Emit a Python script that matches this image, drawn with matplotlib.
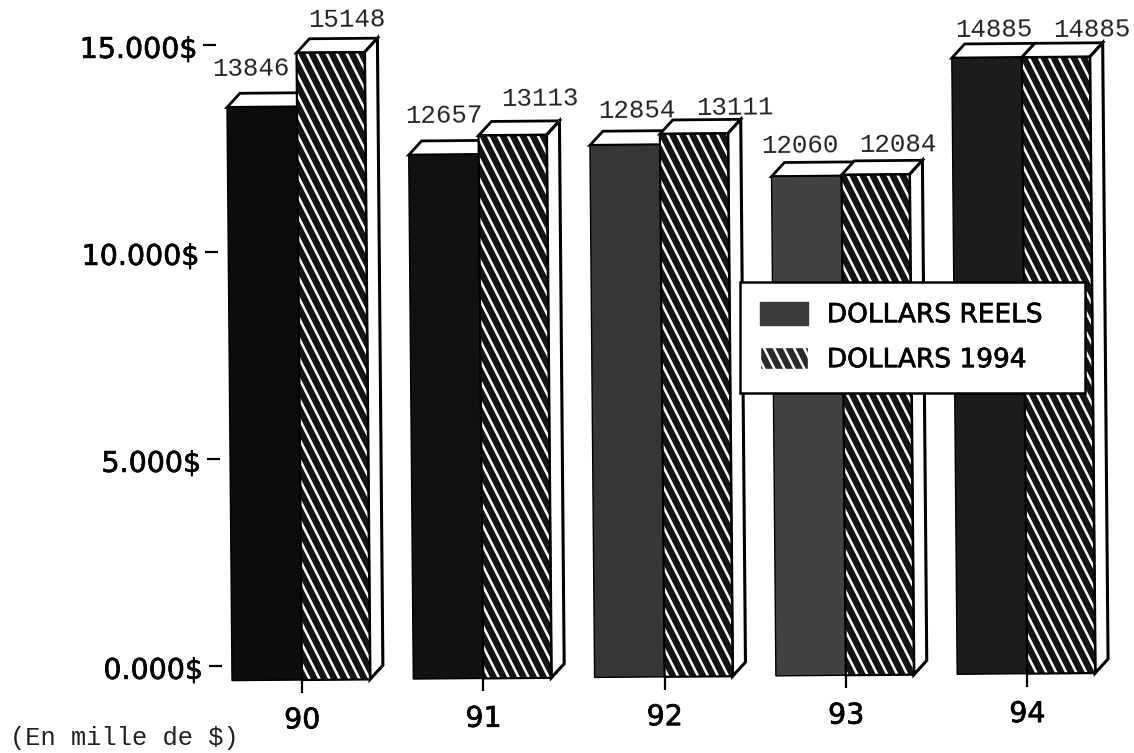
import matplotlib
matplotlib.use("Agg")
import matplotlib.pyplot as plt
import matplotlib.hatch as mhatch
import matplotlib.patheffects as pe
import numpy as np
from matplotlib.patches import Patch
from matplotlib.path import Path
from matplotlib.transforms import Affine2D

years = ["90", "91", "92", "93", "94"]
reels = [13846, 12657, 12854, 12060, 14885]
d1994 = [15148, 13113, 13111, 12084, 14885]
dark_colors = ["#0c0c0c", "#111111", "#363636", "#424242", "#1c1c1c"]
yticks = [0, 5000, 10000, 15000]
ylabels = ["0.000$", "5.000$", "10.000$", "15.000$"]

# label offsets from the bar top, in pixels
off_reels = [(-11, 38), (0, 39), (12, 34), (-7, 31), (7, 28)]
off_1994 = [(16, 33), (27, 37), (41, 26), (22, 30), (36, 27)]


# the scan has stripes steeper than 45 degrees, so swap the stock back slash hatch
class SteepHatch(mhatch.HatchPatternBase):
    def __init__(self, hatch, density):
        self.num_lines = 10 if "\\" in hatch else 0
        self.num_segs = 2 * self.num_lines
        self.num_vertices = 2 * self.num_segs

    def set_vertices_and_codes(self, vertices, codes):
        starts = np.arange(-self.num_lines // 2, self.num_lines + self.num_lines // 2) / self.num_lines
        vertices[0::2, 0] = starts
        vertices[0::2, 1] = 1.0
        vertices[1::2, 0] = starts + 0.5
        vertices[1::2, 1] = 0.0
        codes[0::2] = Path.MOVETO
        codes[1::2] = Path.LINETO


mhatch._hatch_types[mhatch._hatch_types.index(mhatch.SouthEastHatch)] = SteepHatch

plt.rcParams["hatch.linewidth"] = 1.8
W, H = 1134, 753
fig = plt.figure(figsize=(W / 100, H / 100), dpi=100, facecolor="white")

# the page was scanned a bit crooked, everything is turned around the first tick
left, base = 222, 680
ax = fig.add_axes([left / W, (H - base) / H, (W - left) / W, base / H])
ax.set_xlim((left - 302) / 181.3, (W - 302) / 181.3)
ax.set_ylim(0, base / 0.0414)
ax.autoscale(False)
ax.patch.set_alpha(0)
for s in ax.spines.values():
    s.set_visible(False)

rot = Affine2D().rotate_deg_around(302, H - base, 0.5)
t = ax.transData + rot

x = np.arange(len(years))
w = 70 / 181.3
w2 = 68 / 181.3
dx = 13 / 181.3
dy = 14 / 0.0414

for i in x:
    xa, xb, xc = i - w, i, i + w2
    va, vb = reels[i], d1994[i]
    # top faces and the right side
    ax.fill([xa, xa + dx, xb + dx, xb], [va, va + dy, va + dy, va], fc="white", ec="black",
            lw=2, transform=t, clip_on=False, zorder=2)
    ax.fill([xb, xb + dx, xc + dx, xc], [vb, vb + dy, vb + dy, vb], fc="white", ec="black",
            lw=2, transform=t, clip_on=False, zorder=2)
    ax.fill([xc, xc + dx, xc + dx, xc], [0, dy, vb + dy, vb], fc="white", ec="black",
            lw=2.2, transform=t, clip_on=False, zorder=2)

ax.bar(x - w / 2, reels, w, color=dark_colors, edgecolor="black", lw=1, transform=t, zorder=3, clip_on=False)
ax.bar(x + w2 / 2, d1994, w2, color="#141414", edgecolor="white", hatch="\\\\", lw=0, transform=t, zorder=3, clip_on=False)
ax.bar(x + w2 / 2, d1994, w2, fill=False, edgecolor="black", lw=1.6, transform=t, zorder=4, clip_on=False)

# value labels
for i in x:
    for xv, v, off in [(i - w / 2, reels[i], off_reels[i]), (i + w2 / 2, d1994[i], off_1994[i])]:
        ax.annotate(str(v), xy=(xv, v), xycoords=t, xytext=off, textcoords="offset pixels",
                    ha="center", va="center", fontsize=18.5, family="Liberation Mono",
                    color="#222222", rotation=0.5, zorder=6, annotation_clip=False)

ax.set_xticks(x, years)
ax.set_yticks(yticks, ylabels)
ax.tick_params(axis="x", length=9, width=1.6, pad=10, labelsize=20.5, color="black")
ax.tick_params(axis="y", length=9.5, width=1.6, pad=4, labelsize=20.5, color="black")

# y ticks sit on the back wall of the 3d chart, the labels a bit lower than the ticks
back = Affine2D().translate(0, 15)
back_lab = Affine2D().translate(0, 13)
fat = [pe.withStroke(linewidth=0.5, foreground="black")]
for tick in ax.xaxis.get_major_ticks():
    tick.label1.set_transform(tick.label1.get_transform() + rot)
    tick.label1.set_path_effects(fat)
    tick.tick1line.set_transform(tick.tick1line.get_transform() + rot)
for tick in ax.yaxis.get_major_ticks():
    tick.label1.set_transform(tick.label1.get_transform() + back_lab + rot)
    tick.label1.set_path_effects(fat)
    tick.tick1line.set_transform(tick.tick1line.get_transform() + back + rot)

handles = [
    Patch(facecolor="#3a3a3a", edgecolor="#3a3a3a", label="DOLLARS REELS"),
    Patch(facecolor="#2a2a2a", edgecolor="white", hatch="\\\\", label="DOLLARS 1994"),
]
leg = ax.legend(handles=handles, loc="upper left", mode="expand",
                bbox_to_anchor=(740 / W, 1 - 393 / H, 345 / W, 111 / H),
                bbox_transform=fig.transFigure, borderaxespad=0, fancybox=False, framealpha=1,
                edgecolor="black", prop={"family": "DejaVu Sans", "size": 19},
                handlelength=1.82, handleheight=0.95, handletextpad=0.72, labelspacing=0.7,
                borderpad=0.75)
leg.get_frame().set_linewidth(1.8)
leg.set_zorder(10)
for txt in leg.get_texts():
    txt.set_path_effects(fat)

fig.text(10 / W, 1 - 738 / H, "(En mille de $)", family="Liberation Mono", fontsize=18.3,
         va="center", ha="left", color="#222222")

fig.savefig("out.png", dpi=100)
